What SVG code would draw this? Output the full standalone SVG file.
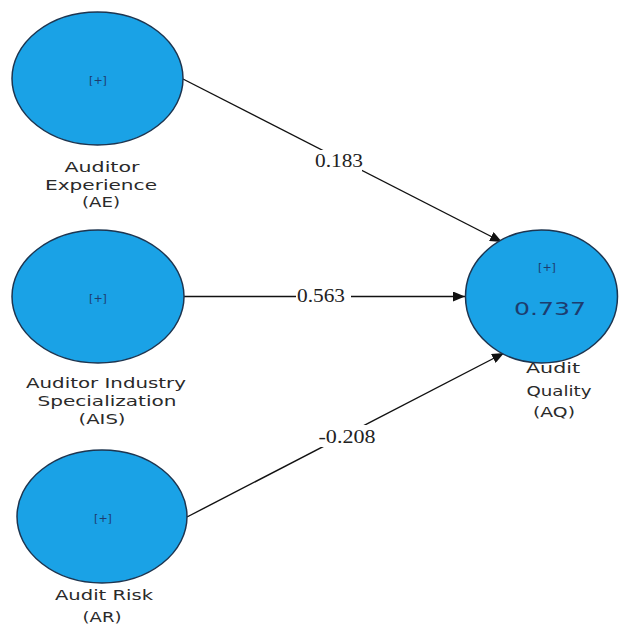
<svg xmlns="http://www.w3.org/2000/svg" width="621" height="625" viewBox="0 0 621 625">
  <style>
    .node { fill: #1aa2e6; stroke: #1d3550; stroke-width: 1.5; }
    .tag { font-family: "DejaVu Sans", Verdana, sans-serif; font-size: 11px; fill: #1d3c6e; text-anchor: middle; }
    .r2 { font-family: "DejaVu Sans", Verdana, sans-serif; font-size: 18px; fill: #1d3c6e; text-anchor: middle; }
    .name { font-family: "DejaVu Sans", Verdana, sans-serif; font-size: 14.5px; fill: #2a2a2a; text-anchor: middle; }
    .edge { stroke: #111; stroke-width: 1.4; fill: none; marker-end: url(#arrow); }
    .coef { font-family: "Liberation Serif", "Times New Roman", serif; font-size: 18px; fill: #222; text-anchor: middle; }
    .bg { fill: #ffffff; }
  </style>
  <defs>
    <marker id="arrow" viewBox="0 0 12 10" refX="12" refY="5" markerWidth="12" markerHeight="10" markerUnits="userSpaceOnUse" orient="auto">
      <path d="M0,0 L12,5 L0,10 Z" fill="#111"/>
    </marker>
  </defs>
  <rect width="621" height="625" fill="#ffffff"/>

  <!-- path coefficients -->
  <g id="connectors">
    <line class="edge" x1="183" y1="79" x2="502" y2="242"/>
    <line class="edge" x1="184" y1="296.5" x2="465" y2="296.5"/>
    <line class="edge" x1="187" y1="517" x2="504" y2="353"/>
    <rect class="bg" x="318" y="150" width="44" height="22"/>
    <text class="coef" x="339" y="167" textLength="48" lengthAdjust="spacingAndGlyphs">0.183</text>
    <rect class="bg" x="296" y="286" width="55" height="20"/>
    <text class="coef" x="321" y="302" textLength="48" lengthAdjust="spacingAndGlyphs">0.563</text>
    <rect class="bg" x="318" y="425" width="58" height="22"/>
    <text class="coef" x="347" y="443" textLength="57" lengthAdjust="spacingAndGlyphs">-0.208</text>
  </g>

  <g id="AE">
    <ellipse class="node" cx="97.5" cy="78.5" rx="85.5" ry="66.5"/>
    <text class="tag" x="98" y="84">[+]</text>
    <text class="name" x="102" y="172" textLength="75" lengthAdjust="spacingAndGlyphs">Auditor</text>
    <text class="name" x="101" y="190" textLength="112" lengthAdjust="spacingAndGlyphs">Experience</text>
    <text class="name" x="101" y="207" textLength="38" lengthAdjust="spacingAndGlyphs">(AE)</text>
  </g>

  <g id="AIS">
    <ellipse class="node" cx="98" cy="296.5" rx="86" ry="66.5"/>
    <text class="tag" x="98" y="302">[+]</text>
    <text class="name" x="106" y="388" textLength="160" lengthAdjust="spacingAndGlyphs">Auditor Industry</text>
    <text class="name" x="107" y="406" textLength="139" lengthAdjust="spacingAndGlyphs">Specialization</text>
    <text class="name" x="102" y="424" textLength="47" lengthAdjust="spacingAndGlyphs">(AIS)</text>
  </g>

  <g id="AR">
    <ellipse class="node" cx="102" cy="516.5" rx="85" ry="66.5"/>
    <text class="tag" x="103" y="522">[+]</text>
    <text class="name" x="104" y="600" textLength="98" lengthAdjust="spacingAndGlyphs">Audit Risk</text>
    <text class="name" x="102" y="622" textLength="39" lengthAdjust="spacingAndGlyphs">(AR)</text>
  </g>

  <g id="AQ">
    <ellipse class="node" cx="541.5" cy="296.5" rx="76" ry="66.5"/>
    <text class="tag" x="547" y="271">[+]</text>
    <text class="r2" x="550" y="315" textLength="72" lengthAdjust="spacingAndGlyphs">0.737</text>
    <text class="name" x="553" y="373" textLength="54" lengthAdjust="spacingAndGlyphs">Audit</text>
    <text class="name" x="559" y="396" textLength="65" lengthAdjust="spacingAndGlyphs">Quality</text>
    <text class="name" x="554" y="417" textLength="42" lengthAdjust="spacingAndGlyphs">(AQ)</text>
  </g>
</svg>
